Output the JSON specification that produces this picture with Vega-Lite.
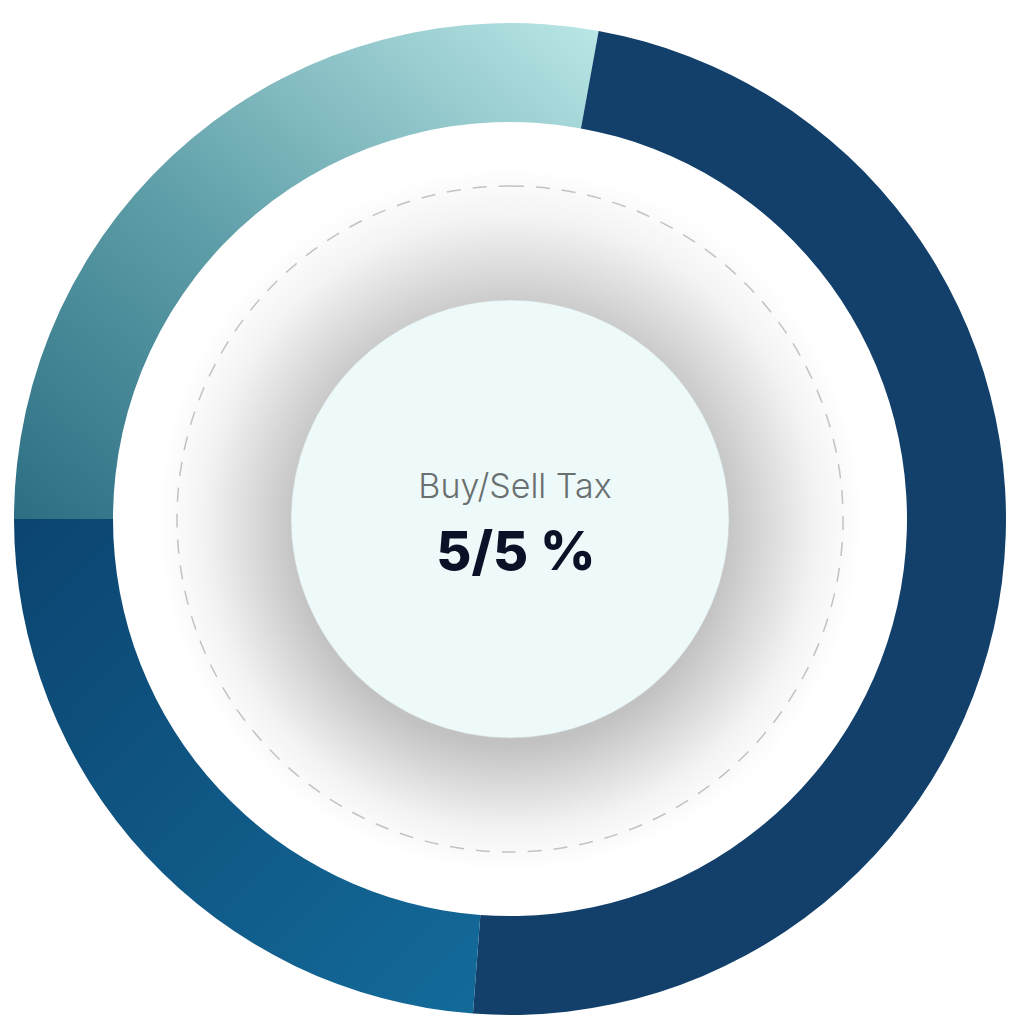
{
  "$schema": "https://vega.github.io/schema/vega-lite/v6.json",
  "width": 1020,
  "height": 1038,
  "autosize": "none",
  "padding": 0,
  "background": "#ffffff",
  "config": {"view": {"stroke": null}},
  "layer": [
    {
      "data": {"values": [
        {"segment": "A", "share": 27.86, "o": 1},
        {"segment": "B", "share": 48.33, "o": 2},
        {"segment": "C", "share": 23.81, "o": 3}
      ]},
      "mark": {"type": "arc", "radius": 496, "radius2": 397},
      "encoding": {
        "theta": {"field": "share", "type": "quantitative", "stack": true, "scale": {"range": [4.71239, 10.99557]}},
        "order": {"field": "o", "type": "quantitative"},
        "fill": {
          "condition": [
            {"test": "datum.segment === 'A'", "value": {"gradient": "linear", "x1": 0, "y1": 1, "x2": 1, "y2": 0, "stops": [{"offset": 0, "color": "#2c6f83"}, {"offset": 0.45, "color": "#5e9ea8"}, {"offset": 1, "color": "#bae7e6"}]}},
            {"test": "datum.segment === 'C'", "value": {"gradient": "linear", "x1": 0, "y1": 0, "x2": 1, "y2": 1, "stops": [{"offset": 0, "color": "#0c4470"}, {"offset": 1, "color": "#136b9a"}]}}
          ],
          "value": "#12406b"
        }
      }
    },
    {
      "data": {"values": [{"part": "shadow"}]},
      "mark": {"type": "arc", "radius": 352, "radius2": 0, "theta": 0, "theta2": 6.2832,
        "fill": {"gradient": "radial", "x1": 0.5, "y1": 0.55, "r1": 0, "x2": 0.5, "y2": 0.5, "r2": 0.5,
          "stops": [{"offset": 0, "color": "#c4c4c4"}, {"offset": 0.6, "color": "#c2c2c2"}, {"offset": 0.73, "color": "#dadada"}, {"offset": 0.87, "color": "#f3f3f3"}, {"offset": 1, "color": "#ffffff"}]}},
      "encoding": {}
    },
    {
      "data": {"values": [{"part": "dash"}]},
      "mark": {"type": "arc", "radius": 333, "radius2": 0, "theta": 0, "theta2": 6.2832, "fill": null, "stroke": "#c2c2c2", "strokeWidth": 1.5, "strokeDash": [14, 12]},
      "encoding": {}
    },
    {
      "data": {"values": [{"part": "core"}]},
      "mark": {"type": "arc", "radius": 219, "radius2": 0, "theta": 0, "theta2": 6.2832, "fill": "#eefafa", "stroke": "#c8cccc", "strokeWidth": 0.6},
      "encoding": {}
    },
    {
      "data": {"values": [{"label": "Buy/Sell Tax"}]},
      "mark": {"type": "text", "font": "Inter", "fontSize": 34, "fontWeight": 300, "color": "#6a6f70", "baseline": "alphabetic", "align": "center", "dx": 5, "dy": -21},
      "encoding": {"text": {"field": "label"}}
    },
    {
      "data": {"values": [{"label": "5/5 %"}]},
      "mark": {"type": "text", "font": "Inter", "fontSize": 54, "fontWeight": 800, "color": "#0b1228", "baseline": "alphabetic", "align": "center", "dx": 6, "dy": 51},
      "encoding": {"text": {"field": "label"}}
    }
  ]
}
